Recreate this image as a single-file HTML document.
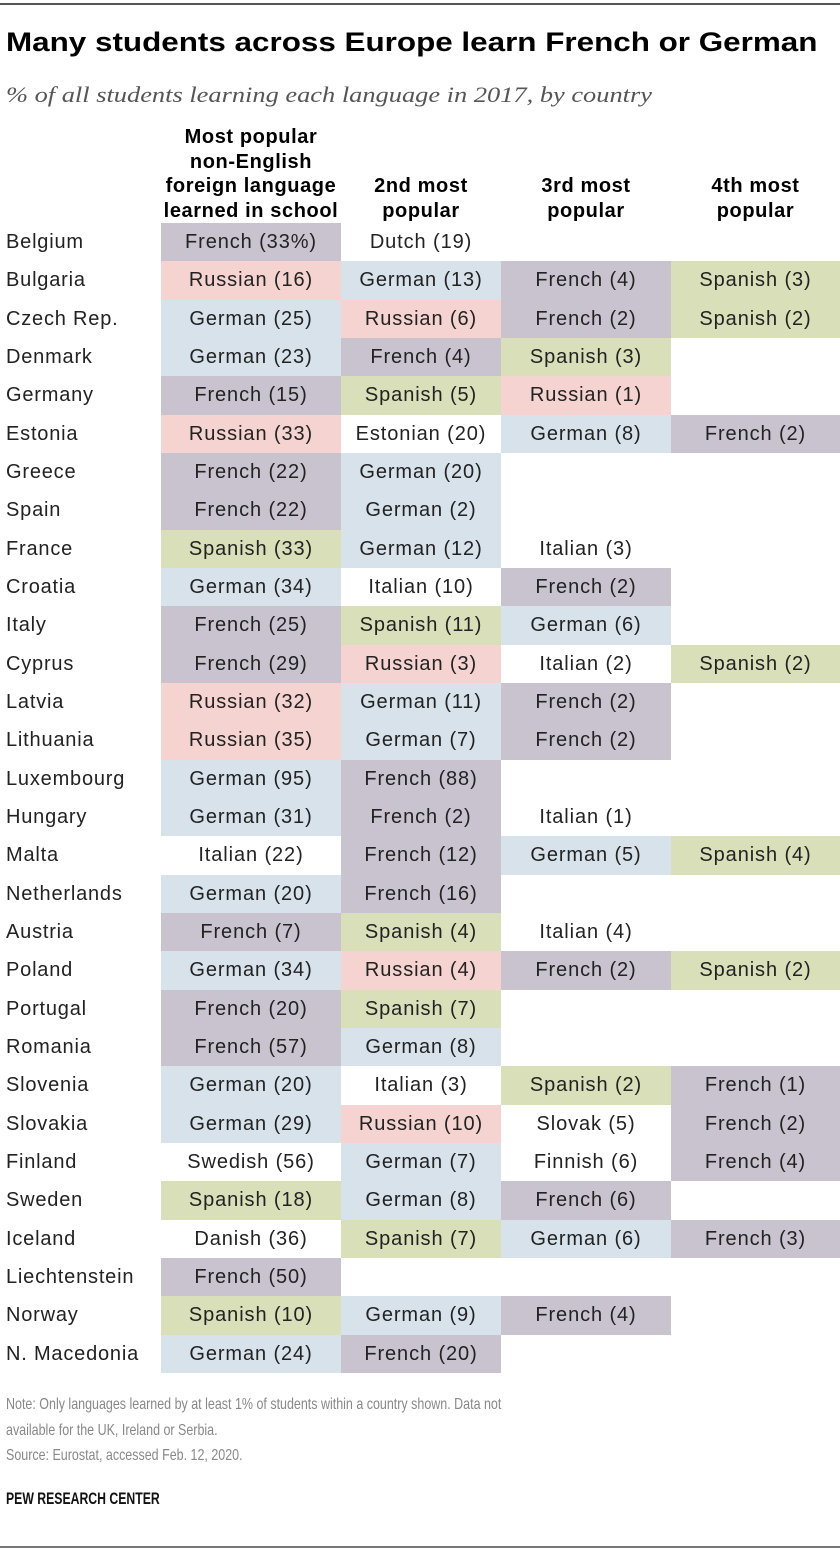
<!DOCTYPE html>
<html><head><meta charset="utf-8"><style>
body{margin:0;background:#fff;width:840px;height:1551px;position:relative;overflow:hidden;font-family:"Liberation Sans",sans-serif;}
.abs{position:absolute;}
.rule{position:absolute;left:0;width:840px;height:2px;background:#555;}
.title{left:6px;top:27px;font-size:27px;font-weight:bold;color:#000;transform:scaleX(1.163);transform-origin:0 0;white-space:nowrap;}
.sub{left:6px;top:82px;font-family:"Liberation Serif",serif;font-style:italic;font-size:22px;color:#555;transform:scaleX(1.2);transform-origin:0 0;white-space:nowrap;}
.hdr{position:absolute;font-weight:bold;font-size:20px;letter-spacing:0.6px;line-height:24.5px;text-align:center;color:#000;}
.cell{position:absolute;height:38.33px;line-height:38px;text-align:center;font-size:20px;letter-spacing:0.9px;color:#222;}
.country{position:absolute;left:6px;height:38.33px;line-height:38px;font-size:20px;letter-spacing:0.8px;color:#222;}
.note{left:6px;font-size:16px;color:#888;line-height:25.5px;transform:scaleX(0.78);transform-origin:0 0;white-space:nowrap;}
</style></head><body>
<div class="rule" style="top:3px"></div>
<div class="abs title">Many students across Europe learn French or German</div>
<div class="abs sub">% of all students learning each language in 2017, by country</div>
<div class="hdr" style="left:151px;width:200px;top:125px">Most popular<br>non-English<br>foreign language<br>learned in school</div>
<div class="hdr" style="left:341px;width:160px;top:174px">2nd most<br>popular</div>
<div class="hdr" style="left:501px;width:170px;top:174px">3rd most<br>popular</div>
<div class="hdr" style="left:671px;width:169px;top:174px">4th most<br>popular</div>
<div id="table"></div>
<div class="abs note" style="top:1392px">Note: Only languages learned by at least 1% of students within a country shown. Data not<br>available for the UK, Ireland or Serbia.<br>Source: Eurostat, accessed Feb. 12, 2020.</div>
<div class="abs" style="left:6px;top:1489px;font-size:17px;font-weight:bold;color:#111;transform:scaleX(0.72);transform-origin:0 0;white-space:nowrap;">PEW RESEARCH CENTER</div>
<div class="rule" style="top:1546px;background:#777"></div>
<script>
const countries=["Belgium","Bulgaria","Czech Rep.","Denmark","Germany","Estonia","Greece","Spain","France","Croatia","Italy","Cyprus","Latvia","Lithuania","Luxembourg","Hungary","Malta","Netherlands","Austria","Poland","Portugal","Romania","Slovenia","Slovakia","Finland","Sweden","Iceland","Liechtenstein","Norway","N. Macedonia"];
const lang1=["French (33%)","Russian (16)","German (25)","German (23)","French (15)","Russian (33)","French (22)","French (22)","Spanish (33)","German (34)","French (25)","French (29)","Russian (32)","Russian (35)","German (95)","German (31)","Italian (22)","German (20)","French (7)","German (34)","French (20)","French (57)","German (20)","German (29)","Swedish (56)","Spanish (18)","Danish (36)","French (50)","Spanish (10)","German (24)"];
const lang2=["Dutch (19)","German (13)","Russian (6)","French (4)","Spanish (5)","Estonian (20)","German (20)","German (2)","German (12)","Italian (10)","Spanish (11)","Russian (3)","German (11)","German (7)","French (88)","French (2)","French (12)","French (16)","Spanish (4)","Russian (4)","Spanish (7)","German (8)","Italian (3)","Russian (10)","German (7)","German (8)","Spanish (7)","","German (9)","French (20)"];
const lang3=["","French (4)","French (2)","Spanish (3)","Russian (1)","German (8)","","","Italian (3)","French (2)","German (6)","Italian (2)","French (2)","French (2)","","Italian (1)","German (5)","","Italian (4)","French (2)","","","Spanish (2)","Slovak (5)","Finnish (6)","French (6)","German (6)","","French (4)",""];
const lang4=["","Spanish (3)","Spanish (2)","","","French (2)","","","","","","Spanish (2)","","","","","Spanish (4)","","","Spanish (2)","","","French (1)","French (2)","French (4)","","French (3)","","",""];
const colors={French:"#c9c3d0",Russian:"#f5d3d0",German:"#d7e2eb",Spanish:"#d9dfb8"};
const cols=[[161,180],[341,160],[501,170],[671,169]];
const top0=223,rowH=38.33;
const tbl=document.getElementById('table');
[lang1,lang2,lang3,lang4].forEach((arr,c)=>{
  arr.forEach((v,r)=>{
    if(!v)return;
    const d=document.createElement('div');
    d.className='cell';
    
    
    d.style.left=cols[c][0]+'px';d.style.width=cols[c][1]+'px';
    d.style.top=(top0+r*rowH)+'px';
    d.style.background=colors[v.split(' ')[0]]||'#fff';
    d.textContent=v;
    tbl.appendChild(d);
  });
});
countries.forEach((n,r)=>{
  const d=document.createElement('div');
  d.className='country';
  
  
  d.style.top=(top0+r*rowH)+'px';
  d.textContent=n;
  tbl.appendChild(d);
});
</script>
</body></html>
